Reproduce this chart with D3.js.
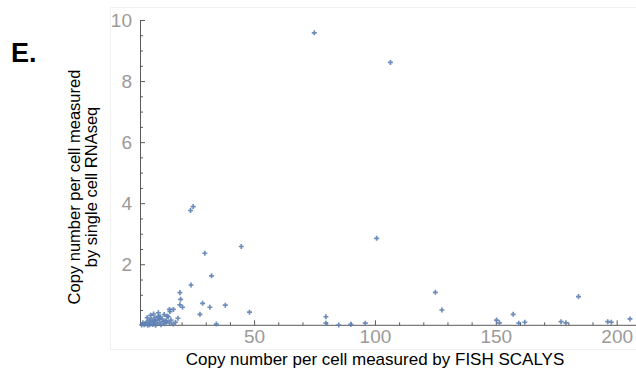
<!DOCTYPE html>
<html>
<head>
<meta charset="utf-8">
<script src="https://cdn.jsdelivr.net/npm/d3@7"></script>
<style>
  html, body { margin: 0; padding: 0; background: #fff; }
  svg { display: block; font-family: "Liberation Sans", Arial, sans-serif; }
</style>
</head>
<body>
<svg id="chart" width="636" height="379"></svg>
<script>
// ---- data ----
const fishX = [
  74.9, 106.4, 100.7, 44.7, 29.6, 24.8, 23.7, 32.4, 23.9, 19.3,
  19.6, 19.3, 20.4, 28.7, 31.7, 38.1, 48.1, 27.6, 34.4, 15.0,
  16.6, 125.0, 127.7, 157.2, 184.2, 205.5, 196.3, 197.8, 177.0, 179.0,
  79.7, 79.7, 85.0, 90.0, 96.0, 150.3, 151.5, 159.5, 162.0,
  4.5, 5.0, 5.5, 6.0, 6.5, 7.0, 7.5, 8.0, 8.4, 8.5,
  9.0, 9.5, 10.0, 10.4, 10.5, 11.0, 11.1, 11.5, 12.0, 12.5,
  13.0, 13.5, 14.0, 14.5, 15.0, 15.6, 16.5, 5.8, 7.2, 9.2,
  6.8, 12.8, 10.8, 8.8, 3.5, 4.0, 18.5, 13.8, 17.5, 15.2
];
const rnaseqY = [
  9.58, 8.61, 2.85, 2.58, 2.36, 3.89, 3.76, 1.62, 1.32, 1.07,
  0.85, 0.67, 0.59, 0.72, 0.59, 0.66, 0.43, 0.36, 0.04, 0.52,
  0.52, 1.08, 0.50, 0.36, 0.94, 0.21, 0.12, 0.10, 0.12, 0.08,
  0.28, 0.07, 0.01, 0.03, 0.07, 0.17, 0.08, 0.07, 0.10,
  0.02, 0.05, 0.10, 0.00, 0.15, 0.08, 0.20, 0.03, 0.37, 0.12,
  0.25, 0.05, 0.18, 0.41, 0.30, 0.10, 0.28, 0.02, 0.20, 0.12,
  0.05, 0.15, 0.30, 0.28, 0.08, 0.17, 0.04, 0.25, 0.33, 0.00,
  0.02, 0.35, 0.22, 0.15, 0.01, 0.08, 0.23, 0.12, 0.10, 0.45
];
const xMajorTicks = [50, 100, 150, 200];
const xMinorTicks = [10, 20, 30, 40, 60, 70, 80, 90, 110, 120, 130, 140, 160, 170, 180, 190];
const yMajorTicks = [2, 4, 6, 8, 10];
const yMinorTicks = [0.5, 1, 1.5, 2.5, 3, 3.5, 4.5, 5, 5.5, 6.5, 7, 7.5, 8.5, 9, 9.5];
const panelLabel = "E.";
const xTitle = "Copy number per cell measured by FISH SCALYS";
const yTitleLines = ["Copy number per cell measured", "by single cell RNAseq"];

const points = fishX.map((x, i) => ({ x, y: rnaseqY[i] }));

// ---- layout ----
const svg = d3.select("#chart");
const x = d3.scaleLinear().domain([2.8, 208]).range([140, 636]);
const y = d3.scaleLinear().domain([0, 10]).range([325.3, 20]);
const axisColor = "#5a5a5a";
const labelColor = "#9c9a98";

// faint frame of the graphic
svg.append("rect")
  .attr("x", 110.5).attr("y", 7.5).attr("width", 530).attr("height", 342)
  .attr("fill", "none").attr("stroke", "#f1f1f1").attr("stroke-width", 1);

// panel label
svg.append("text").attr("x", 11).attr("y", 62)
  .attr("font-size", 27).attr("font-weight", "bold").attr("fill", "#000")
  .text(panelLabel);

// X axis
const gx = svg.append("g").attr("transform", `translate(0,${y(0)})`);
gx.call(d3.axisBottom(x).tickValues(xMajorTicks).tickSize(-5).tickSizeOuter(0).tickFormat(d3.format("d")));
gx.select(".domain").attr("stroke", axisColor).attr("d", `M${x.range()[0]},0H${x.range()[1]}`);
gx.selectAll(".tick line").attr("stroke", axisColor);
gx.selectAll(".tick text").attr("fill", labelColor).attr("font-size", 19)
  .attr("font-family", "Liberation Sans, Arial, sans-serif").attr("dy", "0.62em").attr("y", 6);
const gxm = svg.append("g").attr("transform", `translate(0,${y(0)})`);
gxm.call(d3.axisBottom(x).tickValues(xMinorTicks).tickSize(-3).tickSizeOuter(0).tickFormat(""));
gxm.select(".domain").remove();
gxm.selectAll(".tick line").attr("stroke", axisColor);

// Y axis
const gy = svg.append("g").attr("transform", `translate(${x.range()[0]},0)`);
gy.call(d3.axisLeft(y).tickValues(yMajorTicks).tickSize(-5).tickSizeOuter(0).tickFormat(d3.format("d")));
gy.select(".domain").attr("stroke", axisColor);
gy.selectAll(".tick line").attr("stroke", axisColor);
gy.selectAll(".tick text").attr("fill", labelColor).attr("font-size", 19)
  .attr("font-family", "Liberation Sans, Arial, sans-serif").attr("x", -8);
const gym = svg.append("g").attr("transform", `translate(${x.range()[0]},0)`);
gym.call(d3.axisLeft(y).tickValues(yMinorTicks).tickSize(-3).tickSizeOuter(0).tickFormat(""));
gym.select(".domain").remove();
gym.selectAll(".tick line").attr("stroke", axisColor);

// points
const sym = d3.symbol().type(d3.symbolCross).size(14);
svg.append("g").selectAll("path").data(points).join("path")
  .attr("transform", d => `translate(${x(d.x)},${y(d.y)})`)
  .attr("d", sym)
  .attr("fill", "#5e81b5").attr("fill-opacity", 0.9);

// axis titles
svg.append("text").attr("x", 375).attr("y", 365).attr("text-anchor", "middle")
  .attr("font-size", 17).attr("fill", "#000").text(xTitle);
const yt = svg.append("text").attr("transform", "translate(79.5,187) rotate(-90)")
  .attr("text-anchor", "middle").attr("font-size", 16.5).attr("fill", "#000");
yTitleLines.forEach((t, i) => {
  yt.append("tspan").attr("x", 0).attr("y", i * 17).text(t);
});
</script>
</body>
</html>
